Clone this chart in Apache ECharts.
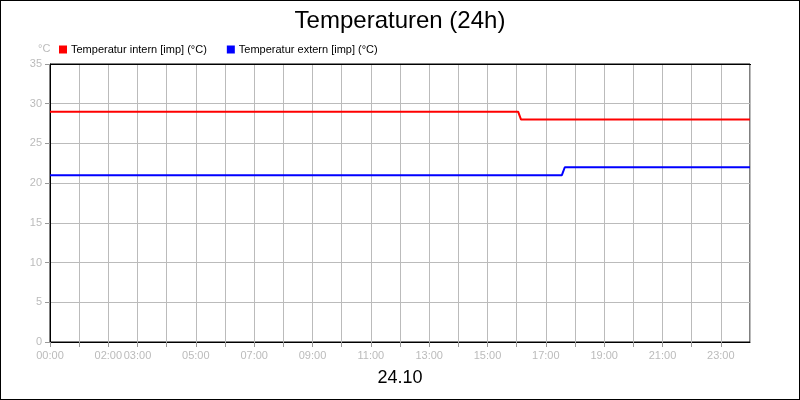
<!DOCTYPE html>
<html><head><meta charset="utf-8">
<script src="https://cdn.jsdelivr.net/npm/echarts@6/dist/echarts.min.js"></script>
<style>html,body{margin:0;padding:0;background:#fff}#c{width:798px;height:398px;border:1px solid #000}</style>
</head><body><div id="c"></div>
<script>
var seriesNames=['Temperatur intern [imp] (°C)','Temperatur extern [imp] (°C)'];
var internPts=[[0,29],[16.05,29],[16.15,28],[24,28]];
var externPts=[[0,21],[17.55,21],[17.65,22],[24,22]];
var shownHours=[0,2,3,5,7,9,11,13,15,17,19,21,23];
var chart=echarts.init(document.getElementById('c'));
function pad(h){return (h<10?'0':'')+h+':00';}
chart.setOption({
 animation:false,
 title:{text:'Temperaturen (24h)',left:'center',top:3,textStyle:{fontFamily:'Liberation Sans',fontSize:24,fontWeight:'normal',color:'#000'}},
 legend:{left:53,top:38,itemWidth:8,itemHeight:8,itemGap:20,icon:'rect',textStyle:{fontFamily:'Liberation Sans',fontSize:11,color:'#000',padding:[0,0,0,-1]},data:seriesNames},
 grid:{left:49,right:49,top:63,bottom:57,show:true,borderColor:'#000',borderWidth:1},
 graphic:[{type:'text',left:37,top:42,style:{text:'°C',fill:'#bbb',font:'11px Liberation Sans'}},
          {type:'text',left:'center',top:368,style:{text:'24.10',fill:'#000',font:'18px Liberation Sans'}},
          {type:'rect',left:49,top:63,shape:{width:701,height:1},style:{fill:'#000'},z:100}],
 xAxis:{type:'value',min:0,max:24,interval:1,
  axisLine:{lineStyle:{color:'#000'}},axisTick:{lineStyle:{color:'#999'}},
  axisLabel:{color:'#bbb',fontFamily:'Liberation Sans',fontSize:11,showMaxLabel:false,
   formatter:function(v){return shownHours.indexOf(v)>=0?pad(v):'';}},
  splitLine:{lineStyle:{color:'#bbb'}}},
 yAxis:{type:'value',min:0,max:35,interval:5,
  axisLine:{show:true,lineStyle:{color:'#000'}},axisTick:{show:true,lineStyle:{color:'#999'}},
  axisLabel:{color:'#bbb',fontFamily:'Liberation Sans',fontSize:11},
  splitLine:{lineStyle:{color:'#bbb'}}},
 series:[
  {name:seriesNames[0],type:'line',data:internPts,showSymbol:false,itemStyle:{color:'#f00'},lineStyle:{color:'#f00',width:2}},
  {name:seriesNames[1],type:'line',data:externPts,showSymbol:false,itemStyle:{color:'#00f'},lineStyle:{color:'#00f',width:2}}
 ]
});
</script></body></html>
